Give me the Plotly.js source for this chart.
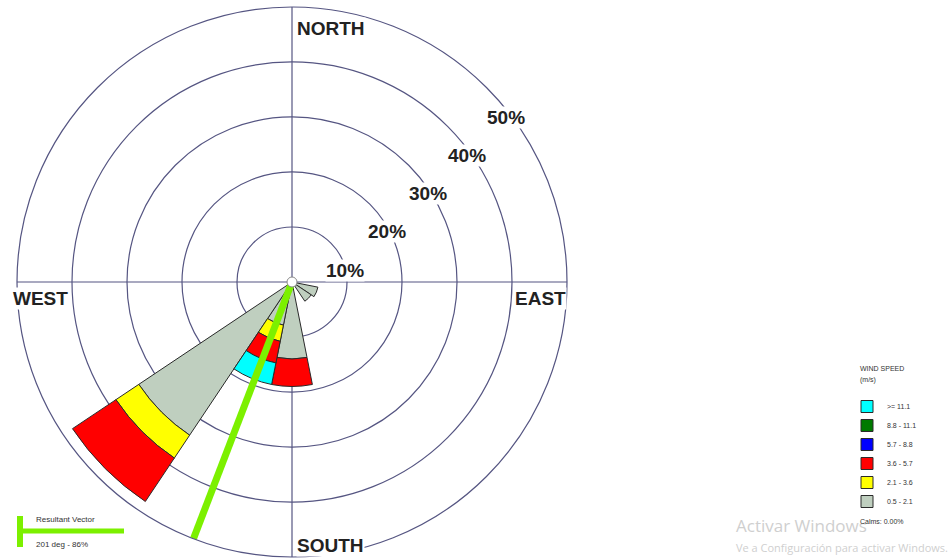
<!DOCTYPE html>
<html>
<head>
<meta charset="utf-8">
<script src="https://cdn.plot.ly/plotly-3.0.1.min.js"></script>
<style>
  html, body { margin: 0; padding: 0; background: #fff; overflow: hidden; }
  #rose { width: 950px; height: 558px; }
</style>
</head>
<body>
<div id="rose"></div>
<script>
// Sixteen compass sectors, clockwise from north
const directions = ['N','NNE','NE','ENE','E','ESE','SE','SSE','S','SSW','SW','WSW','W','WNW','NW','NNW'];

// Wind-speed classes (m/s), innermost first
const speedClasses = ['0.5 - 2.1', '2.1 - 3.6', '3.6 - 5.7', '5.7 - 8.8', '8.8 - 11.1', '>= 11.1'];

// Frequency (%) of each speed class per direction
const freq_0_5_to_2_1  = [0, 0, 0, 0, 0, 4.8, 4.2, 0, 14, 8, 33.5, 0, 0, 0, 0, 0];
const freq_2_1_to_3_6  = [0, 0, 0, 0, 0, 0,   0,   0, 0,  3, 5,    0, 0, 0, 0, 0];
const freq_3_6_to_5_7  = [0, 0, 0, 0, 0, 0,   0,   0, 5,  4, 9.5,  0, 0, 0, 0, 0];
const freq_5_7_to_8_8  = [0, 0, 0, 0, 0, 0,   0,   0, 0,  0, 0,    0, 0, 0, 0, 0];
const freq_8_8_to_11_1 = [0, 0, 0, 0, 0, 0,   0,   0, 0,  0, 0,    0, 0, 0, 0, 0];
const freq_ge_11_1     = [0, 0, 0, 0, 0, 0,   0,   0, 0,  4, 0,    0, 0, 0, 0, 0];

// Ring scale and labels
const ringValues = [10, 20, 30, 40];
const ringLabels = ['10%', '20%', '30%', '40%', '50%'];
const maxPercent = 50;

// Resultant vector and calms
const resultantDeg = 201;
const resultantPct = 86;
const calmsPct = 0.00;

// ---- styling ----
const classColors = ['#bfcfbf', '#ffff00', '#ff0000', '#0000ff', '#007a00', '#00ffff'];
const gridColor = '#555582';
const W = 950, H = 558;
const px = x => x / W;
const py = y => 1 - y / H;

const sectorAngles = directions.map((d, i) => i * 22.5);
const series = [freq_0_5_to_2_1, freq_2_1_to_3_6, freq_3_6_to_5_7, freq_5_7_to_8_8, freq_8_8_to_11_1, freq_ge_11_1];

const traces = series.map((vals, k) => ({
  type: 'barpolar',
  name: speedClasses[k],
  r: vals,
  theta: sectorAngles,
  width: 22.5,
  marker: { color: classColors[k], line: { color: '#2a2a2a', width: 1 } },
  hoverinfo: 'skip'
}));

// Resultant vector line
traces.push({
  type: 'scatterpolar',
  mode: 'lines',
  r: [0, resultantPct],
  theta: [resultantDeg, resultantDeg],
  line: { color: '#7cf000', width: 7 },
  cliponaxis: false,
  showlegend: false,
  hoverinfo: 'skip'
});

// Small hub at the centre
traces.push({
  type: 'scatterpolar',
  mode: 'markers',
  r: [0],
  theta: [0],
  marker: { color: '#ffffff', size: 10, line: { color: '#8a8a8a', width: 1 } },
  showlegend: false,
  hoverinfo: 'skip'
});

// Ring label positions (pixel) along the NE diagonal
const ringLabelPos = [[345, 270], [387, 232], [428, 193], [467, 155], [506, 117]];

const annotations = [];
ringLabels.forEach((t, i) => {
  annotations.push({
    xref: 'paper', yref: 'paper',
    x: px(ringLabelPos[i][0]), y: py(ringLabelPos[i][1]),
    xanchor: 'center', yanchor: 'middle',
    text: t, showarrow: false, bgcolor: '#ffffff', borderpad: 0,
    font: { family: 'Liberation Sans, Arial, sans-serif', size: 19, color: '#222', weight: 'bold' }
  });
});

const compass = [
  { text: 'NORTH', x: 296, y: 29,  xa: 'left' },
  { text: 'SOUTH', x: 296, y: 545, xa: 'left' },
  { text: 'WEST',  x: 12,  y: 298, xa: 'left' },
  { text: 'EAST',  x: 567, y: 298, xa: 'right' }
];
compass.forEach(c => annotations.push({
  xref: 'paper', yref: 'paper', x: px(c.x), y: py(c.y),
  xanchor: c.xa, yanchor: 'middle', text: c.text, showarrow: false,
  bgcolor: '#ffffff', borderpad: 0,
  font: { family: 'Liberation Sans, Arial, sans-serif', size: 19, color: '#222', weight: 'bold' }
}));

// Resultant vector key
annotations.push({
  xref: 'paper', yref: 'paper', x: px(34), y: py(519), xanchor: 'left', yanchor: 'middle',
  text: 'Resultant Vector', showarrow: false,
  font: { family: 'Liberation Sans, Arial, sans-serif', size: 8, color: '#333' }
});
annotations.push({
  xref: 'paper', yref: 'paper', x: px(34), y: py(544), xanchor: 'left', yanchor: 'middle',
  text: resultantDeg + ' deg - ' + resultantPct + '%', showarrow: false,
  font: { family: 'Liberation Sans, Arial, sans-serif', size: 8, color: '#333' }
});

// System watermark text
annotations.push({
  xref: 'paper', yref: 'paper', x: px(734), y: py(525), xanchor: 'left', yanchor: 'middle',
  text: 'Activar Windows', showarrow: false,
  font: { family: 'Open Sans, sans-serif', size: 17, color: '#cfcfcf' }
});
annotations.push({
  xref: 'paper', yref: 'paper', x: px(734), y: py(547), xanchor: 'left', yanchor: 'middle',
  text: 'Ve a Configuración para activar Windows.', showarrow: false,
  font: { family: 'Open Sans, sans-serif', size: 11, color: '#cfcfcf' }
});

// Wind speed key heading
annotations.push({
  xref: 'paper', yref: 'paper', x: px(858), y: py(368), xanchor: 'left', yanchor: 'middle',
  text: 'WIND SPEED', showarrow: false,
  font: { family: 'Liberation Sans, Arial, sans-serif', size: 7, color: '#333' }
});
annotations.push({
  xref: 'paper', yref: 'paper', x: px(858), y: py(380), xanchor: 'left', yanchor: 'middle',
  text: '(m/s)', showarrow: false,
  font: { family: 'Liberation Sans, Arial, sans-serif', size: 7, color: '#333' }
});

// Calms note
annotations.push({
  xref: 'paper', yref: 'paper', x: px(858), y: py(521), xanchor: 'left', yanchor: 'middle',
  text: 'Calms: ' + calmsPct.toFixed(2) + '%', showarrow: false,
  font: { family: 'Liberation Sans, Arial, sans-serif', size: 7, color: '#333' }
});

const shapes = [
  { type: 'line', xref: 'paper', yref: 'paper', x0: px(20), x1: px(20), y0: py(516), y1: py(547),
    line: { color: '#7cf000', width: 6 } },
  { type: 'line', xref: 'paper', yref: 'paper', x0: px(20), x1: px(124), y0: py(531), y1: py(531),
    line: { color: '#7cf000', width: 5 } }
];

const layout = {
  width: W, height: H,
  margin: { l: 0, r: 0, t: 0, b: 0 },
  paper_bgcolor: '#ffffff',
  showlegend: true,
  legend: {
    x: px(847), y: py(392), xanchor: 'left', yanchor: 'top',
    traceorder: 'reversed',
    tracegroupgap: 0,
    font: { family: 'Liberation Sans, Arial, sans-serif', size: 7, color: '#333' },
    bgcolor: 'rgba(0,0,0,0)'
  },
  polar: {
    domain: { x: [px(17), px(567)], y: [py(557), py(7)] },
    bgcolor: '#ffffff',
    bargap: 0,
    barmode: 'stack',
    radialaxis: {
      range: [0, maxPercent],
      tickvals: ringValues,
      showticklabels: false,
      ticks: '',
      showline: false,
      showgrid: true,
      gridcolor: gridColor,
      gridwidth: 1.2
    },
    angularaxis: {
      rotation: 90,
      direction: 'clockwise',
      tickvals: [0, 90, 180, 270],
      showticklabels: false,
      ticks: '',
      showgrid: true,
      gridcolor: gridColor,
      gridwidth: 1.2,
      showline: true,
      linecolor: gridColor,
      linewidth: 1.2
    }
  },
  annotations: annotations,
  shapes: shapes
};

Plotly.newPlot('rose', traces, layout, { displayModeBar: false, staticPlot: true });
</script>
</body>
</html>
